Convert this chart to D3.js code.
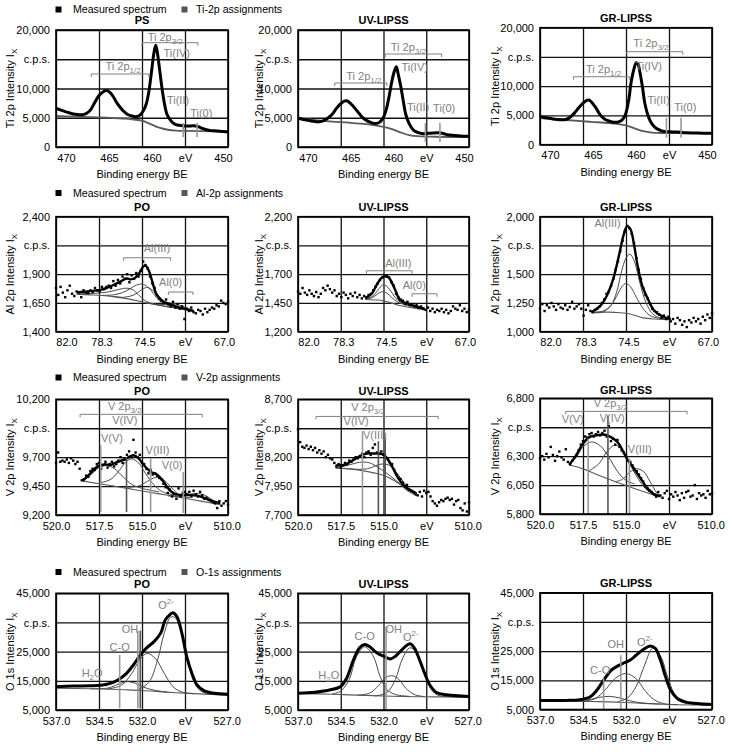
<!DOCTYPE html>
<html><head><meta charset="utf-8">
<script src="https://cdn.jsdelivr.net/npm/d3@7"></script>
<style>
body{margin:0;background:#fff;}
text{font-family:"Liberation Sans",Arial,sans-serif;}
</style></head><body>
<svg id="c" width="732" height="752"></svg>
<script>
// ---------------- DATA ----------------
// axis ticks
const tiXTicks=[470,465,460,455,450], tiXLabels=['470','465','460','eV','450'];
const alXTicks=[82,78.25,74.5,70.75,67], alXLabels=['82.0','78.3','74.5','eV','67.0'];
const vXTicks=[520,517.5,515,512.5,510], vXLabels=['520.0','517.5','515.0','eV','510.0'];
const oXTicks=[537,534.5,532,529.5,527], oXLabels=['537.0','534.5','532.0','eV','527.0'];
const tiYTicks=[0,5000,10000,15000,20000];
const alPoYTicks=[1400,1650,1900,2150,2400], alUvYTicks=[1200,1450,1700,1950,2200], alGrYTicks=[1000,1250,1500,1750,2000];
const vPoYTicks=[9200,9450,9700,9950,10200], vUvYTicks=[7700,7950,8200,8450,8700], vGrYTicks=[5800,6050,6300,6550,6800];
const oYTicks=[5000,15000,25000,35000,45000];
const panelTitles=['PS','UV-LIPSS','GR-LIPSS','PO','UV-LIPSS','GR-LIPSS','PO','UV-LIPSS','GR-LIPSS','PO','UV-LIPSS','GR-LIPSS'];
const rowYTitles=['Ti 2p Intensity I','Al 2p Intensity I','V 2p Intensity I','O 1s Intensity I'];
const rowLegends=['Ti-2p assignments','Al-2p assignments','V-2p assignments','O-1s assignments'];

// Ti 2p
const tiPsMeasured=[[470,6600],[469.5,6350],[469,6100],[468.5,5850],[468,5650],[467.5,5550],[467,5500],[466.5,5700],[466,6300],[465.5,7600],[465,8800],[464.5,9450],[464.1,9650],[463.7,9300],[463.3,8500],[462.9,7500],[462.5,6700],[462.2,6200],[461.8,5700],[461.4,5400],[461,5250],[460.6,5200],[460.2,5500],[459.8,6300],[459.5,7400],[459.2,9500],[458.9,12800],[458.6,16200],[458.4,17400],[458.2,16000],[458,13800],[457.7,10300],[457.4,7500],[457.1,5600],[456.7,4600],[456.3,4000],[455.9,3750],[455.3,3650],[454.8,3600],[454.3,3600],[454,3650],[453.5,3500],[453,3200],[452.5,2950],[452,2800],[451.3,2750],[450.6,2650],[450,2600]];
const tiPsBackground=[[470,5300],[468,5200],[466,5100],[464,5000],[462,4850],[461,4700],[460,4500],[459,3900],[458,3300],[457,2950],[456,2800],[455,2750],[453,2700],[450,2650]];
const tiUvMeasured=[[470,4950],[469.5,4750],[469,4600],[468.5,4450],[468,4350],[467.5,4300],[467,4500],[466.5,4950],[466,5600],[465.5,6600],[465,7400],[464.6,7850],[464.3,7900],[463.9,7500],[463.5,6900],[463,6000],[462.5,5100],[462,4550],[461.5,4200],[461,4000],[460.5,4200],[460.1,4800],[459.7,6300],[459.3,9000],[459,11400],[458.7,13100],[458.5,13700],[458.3,12600],[458,10500],[457.7,8000],[457.4,5600],[457,4000],[456.5,2900],[456,2500],[455.5,2300],[455,2300],[454.5,2350],[454,2400],[453.5,2450],[453,2300],[452.5,2100],[452,2000],[451,1900],[450,1850]];
const tiUvBackground=[[470,4850],[468,4600],[466,4350],[464,4150],[462,3900],[461,3700],[460,3450],[459,3050],[458,2500],[457,2050],[456,1850],[454,1750],[450,1700]];
const tiGrMeasured=[[470,4800],[469.5,4650],[469,4550],[468.5,4400],[468,4300],[467.5,4250],[467,4300],[466.5,4700],[466,5400],[465.5,6300],[465,7100],[464.6,7550],[464.3,7650],[463.9,7100],[463.5,6300],[463,5100],[462.5,4400],[462,4050],[461.5,3850],[461,3850],[460.5,4150],[460.1,5000],[459.7,7500],[459.4,10700],[459.1,12800],[458.8,14000],[458.6,13800],[458.4,12500],[458.1,10000],[457.8,7000],[457.4,4800],[457,3600],[456.5,2800],[456,2450],[455.5,2250],[455,2200],[454,2150],[453,2050],[452,2000],[451,1950],[450,1950]];
const tiGrBackground=[[470,4550],[468,4350],[466,4100],[464,3900],[462,3700],[461,3550],[460,3300],[459,2800],[458,2300],[457,2050],[456,2000],[453,1980],[450,1950]];

// Al 2p  (dots on a 0.2 eV grid from 82.0 down to 67.0)
const alDotStart=82, alDotStep=0.2;
const alPoDots=[1780,1720,1790,1740,1700,1760,1800,1730,1710,1750,
1740,1700,1760,1740,1735,1760,1745,1780,1760,1750,
1790,1770,1790,1800,1780,1840,1800,1850,1820,1880,
1860,1900,1830,1890,1860,1910,1880,1930,2010,1980,
1950,1880,1820,1780,1720,1690,1670,1650,1680,1640,
1620,1660,1610,1640,1600,1620,1510,1600,1580,1610,
1570,1560,1590,1580,1550,1600,1570,1590,1610,1600,
1630,1620,1670,1650,1640,1660];
const alPoFit=[[80.2,1742],[79.5,1748],[78.8,1755],[78.2,1762],[77.6,1780],[77,1806],[76.4,1835],[76,1858],[75.8,1862],[75.5,1855],[75.1,1868],[74.7,1916],[74.4,1965],[74.2,1974],[73.9,1930],[73.6,1835],[73.2,1719],[72.6,1661],[72,1640],[71.7,1626],[71.2,1610],[70.6,1597],[70,1580]];
const alPoBackground=[[80.2,1725],[79,1720],[78,1715],[77,1705],[76,1690],[75,1672],[74.5,1660],[74,1648],[73,1630],[72,1612],[71,1595],[70,1575]];
const alPoComp1=[[80.2,1728],[78.5,1735],[77.5,1745],[76.8,1760],[76.2,1775],[75.8,1778],[75.3,1765],[74.8,1720],[74.3,1675],[73.8,1650],[73,1630],[72,1612]];
const alPoComp2=[[78,1716],[77,1720],[76.2,1740],[75.6,1770],[75,1805],[74.5,1814],[74,1790],[73.5,1730],[73,1670],[72.5,1640],[72,1620],[71,1597]];
const alPoComp3=[[77,1706],[76,1700],[75.2,1720],[74.6,1760],[74.1,1785],[73.7,1770],[73.2,1720],[72.7,1665],[72.2,1635],[71.5,1610],[70.5,1585]];
const alPoComp4=[[74,1650],[73,1635],[72.3,1640],[71.8,1645],[71.2,1630],[70.5,1600],[70,1582]];
const alUvDots=[1550,1530,1580,1540,1520,1560,1530,1510,1545,1500,
1530,1580,1560,1600,1570,1540,1560,1510,1530,1500,
1540,1520,1490,1530,1510,1540,1500,1520,1490,1510,
1500,1520,1530,1560,1590,1620,1650,1670,1690,1680,
1670,1630,1600,1530,1500,1480,1470,1440,1460,1430,
1440,1420,1430,1410,1420,1400,1390,1410,1380,1400,
1370,1390,1380,1400,1370,1390,1360,1380,1420,1400,
1390,1430,1380,1400,1370,1390];
const alUvFit=[[76.1,1490],[75.8,1510],[75.5,1535],[75.1,1608],[74.7,1666],[74.4,1681],[74.1,1675],[73.9,1652],[73.5,1570],[73.06,1477],[72.5,1448],[71.6,1419],[70.9,1398]];
const alUvBackground=[[76.1,1480],[75,1475],[74.5,1468],[74,1455],[73.5,1440],[73,1425],[72,1408],[70.9,1390]];
const alUvComp1=[[76.1,1488],[75.5,1505],[75,1560],[74.6,1605],[74.3,1600],[73.9,1560],[73.5,1500],[73,1455],[72.5,1435],[71.6,1412],[70.9,1395]];
const alUvComp2=[[76.1,1485],[75.5,1495],[75,1530],[74.6,1548],[74.2,1535],[73.8,1500],[73.3,1460],[72.8,1440],[72,1420],[70.9,1392]];
const alGrDots=[1200,1240,1180,1230,1210,1250,1220,1190,1240,1210,
1200,1230,1190,1215,1260,1200,1220,1240,1200,1140,
1190,1230,1180,1170,1190,1200,1220,1250,1280,1330,
1350,1400,1460,1540,1610,1700,1790,1870,1920,1900,
1850,1770,1640,1540,1460,1380,1320,1290,1240,1200,
1180,1170,1150,1120,1140,1110,1130,1090,1110,1070,
1120,1100,1060,1090,1040,1100,1080,1120,1090,1110,
1070,1130,1100,1150,1120,1160];
const alGrFit=[[77.5,1170],[76.7,1229],[76.15,1317],[75.6,1463],[75.1,1669],[74.7,1845],[74.4,1918],[74.1,1889],[73.8,1757],[73.5,1581],[73.1,1405],[72.6,1287],[72.06,1185],[71.3,1132],[70.6,1111]];
const alGrBackground=[[77.5,1168],[76,1170],[75,1165],[74.5,1160],[74,1150],[73.5,1135],[73,1120],[72,1110],[70.6,1105]];
const alGrComp1=[[77.5,1165],[76.5,1172],[75.8,1230],[75.3,1350],[74.9,1520],[74.5,1640],[74.16,1674],[73.8,1620],[73.4,1470],[73,1320],[72.5,1200],[72,1140],[71.3,1115],[70.6,1108]];
const alGrComp2=[[77.5,1168],[76.5,1180],[75.8,1230],[75.2,1330],[74.8,1400],[74.5,1419],[74.1,1390],[73.6,1300],[73,1200],[72.4,1140],[71.5,1115],[70.6,1108]];

// V 2p (dots on a 0.125 eV grid from 520.0 down to 510.0)
const vDotStart=520, vDotStep=0.125;
const vPoDots=[9650,9740,9660,9670,9660,9680,9650,9690,9670,9640,
9660,9600,9500,9510,9540,9530,9580,9600,9590,9640,
9650,9600,9630,9660,9610,9640,9660,9620,9640,9670,
9700,9650,9680,9720,9750,9700,9850,9740,9700,9720,
9650,9640,9600,9560,9590,9550,9560,9540,9520,9510,
9470,9440,9390,9420,9360,9380,9340,9430,9360,9390,
9400,9380,9400,9360,9410,9380,9360,9400,9370,9340,
9350,9330,9320,9310,9300,9260,9320,9280,9300,9320,
9290];
const vPoFit=[[518.45,9494],[518,9560],[517.6,9618],[517.2,9638],[516.85,9632],[516.5,9655],[516.2,9670],[515.9,9690],[515.6,9713],[515.5,9716],[515.2,9690],[514.9,9632],[514.5,9575],[514.1,9546],[513.75,9488],[513.4,9416],[513,9379],[512.4,9373],[511.8,9367],[511.3,9344],[510.8,9315],[510.45,9300]];
const vPoBackground=[[518.45,9494],[517.5,9470],[516.5,9447],[515.5,9420],[514.5,9395],[513.5,9370],[512.5,9345],[511.5,9318],[510.45,9290]];
const vPoComp1=[[518.45,9494],[518,9545],[517.5,9610],[517.1,9630],[516.6,9600],[516.1,9530],[515.6,9465],[515,9430],[514,9400]];
const vPoComp2=[[517.5,9475],[516.8,9510],[516.3,9590],[515.9,9665],[515.6,9685],[515.2,9650],[514.8,9560],[514.3,9460],[513.8,9400],[513,9370]];
const vPoComp3=[[516,9440],[515.2,9450],[514.7,9490],[514.2,9525],[513.8,9510],[513.3,9440],[512.8,9370],[512.2,9350]];
const vPoComp4=[[513.5,9365],[512.8,9360],[512.2,9380],[511.7,9385],[511.2,9360],[510.8,9320],[510.45,9300]];
const vUvDots=[8440,8330,8290,8280,8300,8270,8290,8260,8280,8240,
8260,8230,8250,8200,8220,8190,8180,8150,8120,8140,
8110,8130,8150,8140,8170,8160,8180,8200,8190,8210,
8230,8200,8240,8250,8220,8280,8310,8240,8230,8250,
8220,8200,8180,8150,8140,8090,8050,8020,8010,7980,
7950,7960,7920,7910,7900,7880,7870,7900,7860,7910,
7890,7900,7860,7820,7800,7780,7810,7830,7820,7840,
7850,7830,7840,7790,7820,7830,7760,7740,7800,7730,
7810];
const vUvFit=[[517.8,8129],[517.3,8133],[516.95,8158],[516.56,8193],[516.2,8222],[515.9,8233],[515.6,8232],[515.3,8230],[515,8222],[514.8,8193],[514.5,8120],[514.2,8033],[513.85,7961],[513.45,7917],[513.07,7888]];
const vUvBackground=[[517.8,8106],[516.5,8090],[515.5,8062],[514.8,8030],[514,7960],[513.5,7900],[513.07,7868]];
const vUvComp1=[[517.8,8110],[517.2,8125],[516.6,8150],[516.2,8158],[515.8,8150],[515.3,8110],[514.8,8060],[514.2,7990],[513.5,7910],[513.07,7870]];
const vUvComp2=[[517.8,8108],[517,8100],[516.2,8095],[515.7,8110],[515.3,8135],[515,8141],[514.6,8125],[514.2,8060],[513.7,7960],[513.3,7895],[513.07,7870]];
const vGrDots=[6280,6300,6270,6320,6290,6380,6310,6260,6300,6340,
6290,6270,6360,6250,6230,6260,6290,6310,6350,6400,
6430,6470,6460,6490,6500,6470,6490,6510,6480,6500,
6520,6470,6560,6430,6450,6400,6440,6380,6350,6330,
6300,6260,6250,6220,6180,6170,6140,6110,6080,6040,
6020,6000,5990,5970,5950,5990,5960,5940,5980,6000,
5930,5970,5950,5990,5960,5920,5980,5940,5990,6000,
5950,5960,6050,5930,5980,5960,5970,5940,6000,5970,
5980];
const vGrFit=[[518.3,6226],[517.9,6307],[517.5,6409],[517.1,6467],[516.7,6481],[516.3,6487],[515.9,6467],[515.5,6423],[515.2,6351],[514.95,6278],[514.6,6206],[514.2,6119],[513.8,6032],[513.4,5974],[513,5954]];
const vGrBackground=[[518.3,6226],[517.5,6190],[516.7,6142],[515.8,6090],[515,6046],[514,5995],[513,5945]];
const vGrComp1=[[518.3,6226],[517.9,6290],[517.5,6380],[517,6423],[516.5,6390],[516,6290],[515.5,6170],[515,6090],[514.5,6060]];
const vGrComp2=[[517.2,6170],[516.6,6230],[516.2,6320],[515.8,6385],[515.6,6394],[515.3,6370],[514.9,6270],[514.4,6130],[513.8,6010],[513.2,5960]];
const vGrComp3=[[515.6,6080],[515.2,6100],[514.8,6160],[514.4,6191],[514,6170],[513.6,6080],[513.2,5980],[513,5955]];

// O 1s
const oPoMeasured=[[537,13000],[536,13230],[535,13300],[534.4,13460],[533.85,14140],[533.4,15290],[532.9,17570],[532.5,20430],[532.1,23860],[531.7,26490],[531.3,28430],[530.9,31510],[530.65,35860],[530.36,37800],[530.2,38370],[529.97,37000],[529.68,31290],[529.4,23290],[529.1,17570],[528.8,13570],[528.4,11630],[527.8,10710],[527,10370]];
const oPoBackground=[[537,12430],[535,12300],[534,12150],[533,11950],[532,11700],[531,11300],[530,10900],[529,10600],[528,10350],[527,10150]];
const oPoComp1=[[535,12300],[534,12500],[533.4,13800],[532.9,14700],[532.4,14200],[531.9,12800],[531.3,11800],[530.5,11100]];
const oPoComp2=[[534,12200],[533.2,13500],[532.6,17500],[532.1,22500],[531.7,24400],[531.2,22500],[530.7,17500],[530.2,13000],[529.7,11200],[529,10600]];
const oPoComp3=[[532.3,11800],[531.6,14500],[531.1,22000],[530.7,31500],[530.3,37000],[529.9,35500],[529.6,29000],[529.3,21000],[529,15000],[528.6,11600],[528,10450],[527,10150]];
const oUvMeasured=[[537,10760],[536,11100],[535.1,11920],[534.5,13070],[534.15,15950],[533.75,22290],[533.4,26330],[533.1,27480],[532.8,26670],[532.4,24600],[532,23440],[531.6,22520],[531.3,23440],[531,25170],[530.65,27130],[530.45,27710],[530.2,26330],[529.9,22290],[529.6,17680],[529.3,13650],[528.9,10990],[528.3,10190],[527,9610]];
const oUvBackground=[[537,10700],[535,10400],[534,10200],[533,10000],[532,9800],[531,9650],[530,9550],[529,9500],[527,9400]];
const oUvComp1=[[535,10500],[534.5,11500],[534,15500],[533.6,23000],[533.1,26670],[532.6,23500],[532.2,16500],[531.8,12000],[531.3,10300],[530.5,9700]];
const oUvComp2=[[533.5,10100],[532.8,10800],[532.3,13300],[531.9,16000],[531.5,16760],[531.1,15500],[530.7,12500],[530.2,10300],[529.6,9600]];
const oUvComp3=[[532.5,9800],[531.8,11000],[531.3,15500],[530.9,22500],[530.45,26330],[530,24000],[529.6,17000],[529.2,12000],[528.8,10000],[528,9550],[527,9400]];
const oGrMeasured=[[537,8110],[535.5,8110],[534.7,8340],[534.1,9270],[533.7,11570],[533.3,15030],[532.9,18260],[532.5,19870],[532.1,21020],[531.75,21950],[531.4,23670],[530.98,25630],[530.6,26790],[530.3,25980],[530,21950],[529.7,16180],[529.4,11570],[529,8690],[528.5,7540],[527.7,6960],[527,6730]];
const oGrBackground=[[537,7900],[535,7850],[534,7750],[533,7600],[532,7400],[531,7100],[530,6850],[529,6650],[527,6500]];
const oGrComp1=[[535,7850],[534.3,8200],[533.6,9100],[533,9500],[532.4,9000],[531.8,8000],[531,7200],[530,6850]];
const oGrComp2=[[534.5,7850],[533.8,8700],[533.2,11800],[532.6,15800],[532,17330],[531.4,15500],[530.9,11500],[530.4,8500],[529.8,7000],[529,6650]];
const oGrComp3=[[532.5,7600],[531.9,9000],[531.4,13000],[530.9,20500],[530.45,25980],[530,23500],[529.6,16500],[529.2,10500],[528.8,7700],[528,6800],[527,6550]];

// assignment annotations: [text, BE, intensity, anchor]
const tiPsLabels=[['Ti 2p_{3/2}',457.3,18800,'middle'],['Ti(IV)',457.5,16070,'start'],['Ti 2p_{1/2}',462.2,13850,'middle'],['Ti(II)',457.1,8030,'start'],['Ti(0)',454.4,5810,'start']];
const tiUvLabels=[['Ti 2p_{3/2}',457.1,17090,'middle'],['Ti(IV)',457.9,13680,'start'],['Ti 2p_{1/2}',462.3,12140,'middle'],['Ti(II)',457.25,6840,'start'],['Ti(0)',454.2,6670,'start']];
const tiGrLabels=[['Ti 2p_{3/2}',457.1,17440,'middle'],['Ti(IV)',458.9,13500,'start'],['Ti 2p_{1/2}',462.6,13000,'middle'],['Ti(II)',457.5,7690,'start'],['Ti(0)',454.4,6500,'start']];
const alPoLabels=[['Al(III)',73.2,2128,'middle'],['Al(0)',72.0,1832,'middle']];
const alUvLabels=[['Al(III)',73.2,1800,'middle'],['Al(0)',71.8,1609,'middle']];
const alGrLabels=[['Al(III)',76.1,1947,'middle']];
const vPoLabels=[['V 2p_{3/2}',516.0,10140,'middle'],['V(IV)',516.0,10020,'middle'],['V(V)',516.75,9864,'middle'],['V(III)',514.1,9760,'middle'],['V(0)',513.25,9630,'middle']];
const vUvLabels=[['V 2p_{3/2}',515.9,8630,'middle'],['V(IV)',516.6,8509,'middle'],['V(III)',515.5,8387,'middle']];
const vGrLabels=[['V 2p_{3/2}',515.9,6755,'middle'],['V(V)',518.1,6617,'middle'],['V(IV)',515.8,6628,'middle'],['V(III)',514.2,6357,'middle']];
const oPoLabels=[['O^{2-}',530.6,40900,'middle'],['OH',532.7,32700,'middle'],['C-O',533.3,26540,'middle'],['H_{2}O',534.9,17650,'middle']];
const oUvLabels=[['C-O',533.1,30170,'middle'],['OH',531.4,32590,'middle'],['O^{2-}',530.4,29830,'middle'],['H_{2}O',535.2,17070,'middle']];
const oGrLabels=[['C-O',533.5,18450,'middle'],['OH',532.6,27410,'middle'],['O^{2-}',530.9,28100,'middle']];
// brackets: [BE from, BE to, intensity]
const tiPsBrackets=[[460,453.5,17830],[465.9,459.2,12480]];
const tiUvBrackets=[[459.8,453.2,15900],[465.7,459.6,10940]];
const tiGrBrackets=[[459.9,453.4,15900],[466.1,459.6,11620]];
const alPoBrackets=[[76.1,72.0,2043],[72.2,70.05,1745]];
const alUvBrackets=[[76.0,72.0,1730],[72.0,69.8,1530]];
const vPoBrackets=[[518.6,511.5,10070]];
const vUvBrackets=[[518.95,511.8,8552]];
const vGrBrackets=[[518.5,511.45,6687]];
// peak markers: [BE, top intensity, bottom intensity, dark?]
const tiPsMarkers=[[455.2,4100,1700,0],[453.6,4100,1700,0]];
const tiUvMarkers=[[455.1,4100,850,0],[453.4,4100,850,0]];
const tiGrMarkers=[[455.3,4600,1200,0],[453.6,4600,1200,0]];
const vPoMarkers=[[517.4,9803,9226,0],[515.9,9700,9226,1],[514.5,9690,9226,0],[512.6,9570,9217,0]];
const vUvMarkers=[[516.23,8425,7700,0],[515.3,8338,7700,1],[514.9,8367,7700,1]];
const vGrMarkers=[[517.2,6452,5800,0],[516.05,6652,5800,1],[514.8,6278,5800,0]];
const oPoMarkers=[[533.3,23860,5570,0],[532.24,32200,5570,0],[532.1,32200,5570,1]];
const oUvMarkers=[[531.85,33620,5000,0]];
const oGrMarkers=[[533.3,15700,5000,0],[532.3,23600,5000,0]];

// ---------------- LAYOUT ----------------
const colLeft=[56,298,540], colWidth=[172,171,172];
const rowTop=[30,216.7,399.3,593.3], rowHeight=[117,115,115.7,116.7];
const col3Dy=[-2.3,0,-1,-0.5];
const legendY=[9.5,193,377.5,572];
const titleGap=[9.5,9.5,8.5,9.5];
const yTitleOffset=[-45.5,-39,-45];
const xLabelShift=[[10,10,10,0,-5],[10.5,2.5,2.5,0,-4],[0,0,0,0,-1.3],[0,0,0,0,-1.3]];
const GRID='#111', COMP='#4a4a4a', BG='#5a5a5a', ANNO='#808080';

const rowsCfg=[
 {xDomain:[470,450],xTicks:tiXTicks,xLabels:tiXLabels},
 {xDomain:[82,67],xTicks:alXTicks,xLabels:alXLabels},
 {xDomain:[520,510],xTicks:vXTicks,xLabels:vXLabels},
 {xDomain:[537,527],xTicks:oXTicks,xLabels:oXLabels}
];
const dotsFrom=(vals,start,step)=>vals.map((v,i)=>[start-i*step,v]);
const panels=[
 {yTicks:tiYTicks,measured:tiPsMeasured,bg:tiPsBackground,comps:[],labels:tiPsLabels,brackets:tiPsBrackets,markers:tiPsMarkers},
 {yTicks:tiYTicks,measured:tiUvMeasured,bg:tiUvBackground,comps:[],labels:tiUvLabels,brackets:tiUvBrackets,markers:tiUvMarkers},
 {yTicks:tiYTicks,measured:tiGrMeasured,bg:tiGrBackground,comps:[],labels:tiGrLabels,brackets:tiGrBrackets,markers:tiGrMarkers},
 {yTicks:alPoYTicks,dots:dotsFrom(alPoDots,alDotStart,alDotStep),fit:alPoFit,bg:alPoBackground,comps:[alPoComp1,alPoComp2,alPoComp3,alPoComp4],labels:alPoLabels,brackets:alPoBrackets,markers:[]},
 {yTicks:alUvYTicks,dots:dotsFrom(alUvDots,alDotStart,alDotStep),fit:alUvFit,bg:alUvBackground,comps:[alUvComp1,alUvComp2],labels:alUvLabels,brackets:alUvBrackets,markers:[]},
 {yTicks:alGrYTicks,dots:dotsFrom(alGrDots,alDotStart,alDotStep),fit:alGrFit,bg:alGrBackground,comps:[alGrComp1,alGrComp2],labels:alGrLabels,brackets:[],markers:[]},
 {yTicks:vPoYTicks,dots:dotsFrom(vPoDots,vDotStart,vDotStep),fit:vPoFit,bg:vPoBackground,comps:[vPoComp1,vPoComp2,vPoComp3,vPoComp4],labels:vPoLabels,brackets:vPoBrackets,markers:vPoMarkers},
 {yTicks:vUvYTicks,dots:dotsFrom(vUvDots,vDotStart,vDotStep),fit:vUvFit,bg:vUvBackground,comps:[vUvComp1,vUvComp2],labels:vUvLabels,brackets:vUvBrackets,markers:vUvMarkers},
 {yTicks:vGrYTicks,dots:dotsFrom(vGrDots,vDotStart,vDotStep),fit:vGrFit,bg:vGrBackground,comps:[vGrComp1,vGrComp2,vGrComp3],labels:vGrLabels,brackets:vGrBrackets,markers:vGrMarkers},
 {yTicks:oYTicks,measured:oPoMeasured,bg:oPoBackground,comps:[oPoComp1,oPoComp2,oPoComp3],labels:oPoLabels,brackets:[],markers:oPoMarkers},
 {yTicks:oYTicks,measured:oUvMeasured,bg:oUvBackground,comps:[oUvComp1,oUvComp2,oUvComp3],labels:oUvLabels,brackets:[],markers:oUvMarkers},
 {yTicks:oYTicks,measured:oGrMeasured,bg:oGrBackground,comps:[oGrComp1,oGrComp2,oGrComp3],labels:oGrLabels,brackets:[],markers:oGrMarkers}
];

const svg=d3.select('#c');
svg.append('rect').attr('width',732).attr('height',752).attr('fill','#fff');

// text with _{sub} and ^{sup} parts
function richText(sel,str){
  const re=/([^_^]+)|_\{([^}]*)\}|\^\{([^}]*)\}/g; let m, shift=0;
  while((m=re.exec(str))){
    if(m[1]){ const t=sel.append('tspan').text(m[1]); if(shift){t.attr('dy',-shift);shift=0;} }
    else if(m[2]){ sel.append('tspan').attr('font-size','8px').attr('dy',3-shift).text(m[2]); shift=3; }
    else if(m[3]){ sel.append('tspan').attr('font-size','8px').attr('dy',-5-shift).text(m[3]); shift=-5; }
  }
}

// legends
rowLegends.forEach((lg,r)=>{
  const g=svg.append('g');
  const yy=legendY[r];
  g.append('rect').attr('x',55.5).attr('y',yy-3).attr('width',6).attr('height',6).attr('fill','#000');
  g.append('text').attr('x',73).attr('y',yy).attr('dy','0.35em').attr('font-size','10.6px').text('Measured spectrum');
  g.append('rect').attr('x',181.5).attr('y',yy-3).attr('width',6).attr('height',6).attr('fill','#555');
  g.append('text').attr('x',196).attr('y',yy).attr('dy','0.35em').attr('font-size','10.6px').text(lg);
});

panels.forEach((p,i)=>{
  const row=Math.floor(i/3), col=i%3, rc=rowsCfg[row];
  const x0=colLeft[col], w=colWidth[col];
  const y0=rowTop[row]+(col===2?col3Dy[row]:0), h=rowHeight[row];
  const x=d3.scaleLinear().domain(rc.xDomain).range([x0,x0+w]);
  const y=d3.scaleLinear().domain([p.yTicks[0],p.yTicks[4]]).range([y0+h,y0]);
  const g=svg.append('g');
  const yLab=p.yTicks.map((v,k)=>k===3?'c.p.s.':d3.format(',')(v));

  // axes with gridlines
  const ax=g.append('g').attr('transform',`translate(0,${y0+h})`)
    .call(d3.axisBottom(x).tickValues(rc.xTicks).tickSize(-h).tickPadding(7).tickFormat((d,k)=>rc.xLabels[k]));
  ax.selectAll('.tick text').attr('dx',(d,k)=>xLabelShift[row][k]);
  const ay=g.append('g').attr('transform',`translate(${x0},0)`)
    .call(d3.axisLeft(y).tickValues(p.yTicks).tickSize(-w).tickPadding(6).tickFormat((d,k)=>yLab[k]));
  [ax,ay].forEach(a=>{
    a.select('.domain').remove();
    a.selectAll('line').attr('stroke',GRID).attr('stroke-width',1.3);
    a.selectAll('text').attr('font-size','11px').attr('fill','#000').attr('font-family','"Liberation Sans",Arial,sans-serif');
  });

  const line=d3.line().x(d=>x(d[0])).y(d=>y(d[1])).curve(d3.curveCatmullRom.alpha(0.5));
  // background & components
  g.append('path').attr('d',line(p.bg)).attr('fill','none').attr('stroke',BG).attr('stroke-width',row===0?1.8:1.1);
  p.comps.forEach(c=>g.append('path').attr('d',line(c)).attr('fill','none').attr('stroke',COMP).attr('stroke-width',1));
  // dots
  if(p.dots){
    g.selectAll('.dot').data(p.dots).join('rect').attr('x',d=>x(d[0])-1.2).attr('y',d=>y(d[1])-1.2)
      .attr('width',2.4).attr('height',2.4).attr('fill','#000');
  }
  if(p.fit) g.append('path').attr('d',line(p.fit)).attr('fill','none').attr('stroke','#000').attr('stroke-width',2.4);
  if(p.measured) g.append('path').attr('d',line(p.measured)).attr('fill','none').attr('stroke','#000').attr('stroke-width',3).attr('stroke-linejoin','round');

  // markers
  p.markers.forEach(m=>g.append('line').attr('x1',x(m[0])).attr('x2',x(m[0])).attr('y1',y(m[1])).attr('y2',y(m[2]))
     .attr('stroke',m[3]?'#555':'#999').attr('stroke-width',1.6));
  // brackets
  p.brackets.forEach(b=>{
    const xa=x(b[0]), xb=x(b[1]), yy=y(b[2]);
    g.append('path').attr('d',`M${xa},${yy+3}V${yy}H${xb}V${yy+3}`).attr('fill','none').attr('stroke',ANNO).attr('stroke-width',1);
  });
  // labels
  p.labels.forEach(l=>{
    const t=g.append('text').attr('x',x(l[1])).attr('y',y(l[2])).attr('dy','0.35em').attr('text-anchor',l[3])
      .attr('font-size','11px').attr('fill',ANNO);
    richText(t,l[0]);
  });
  // border
  g.append('rect').attr('x',x0).attr('y',y0).attr('width',w).attr('height',h).attr('fill','none').attr('stroke','#000').attr('stroke-width',1.6);

  // titles
  g.append('text').attr('x',x0+w/2).attr('y',y0-titleGap[row]).attr('dy','0.35em').attr('text-anchor','middle')
    .attr('font-size','11px').attr('font-weight','bold').text(panelTitles[i]);
  g.append('text').attr('x',x0+w/2).attr('y',y0+h+27).attr('dy','0.35em').attr('text-anchor','middle')
    .attr('font-size','11px').text('Binding energy BE');
  const yt=g.append('text').attr('transform',`translate(${x0+yTitleOffset[col]},${y0+h/2}) rotate(-90)`)
    .attr('dy','0.35em').attr('text-anchor','middle').attr('font-size','11px');
  yt.append('tspan').text(rowYTitles[row]);
  yt.append('tspan').attr('font-size','8px').attr('dy',3).text('X');
});
</script></body></html>
